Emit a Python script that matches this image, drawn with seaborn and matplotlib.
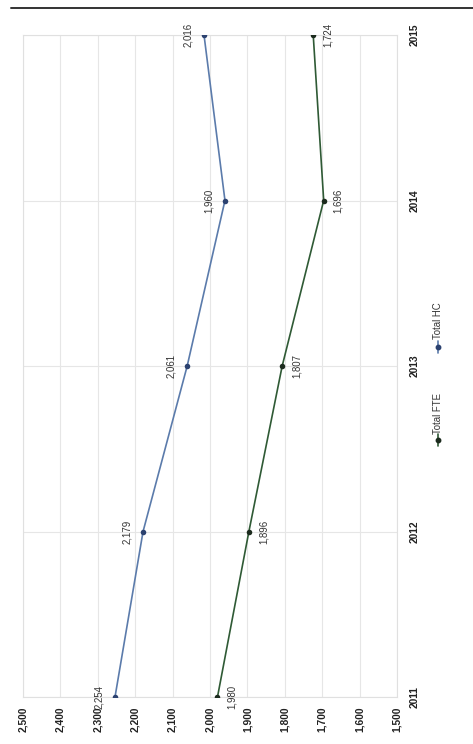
import matplotlib
matplotlib.use("Agg")
import matplotlib.pyplot as plt
from matplotlib.lines import Line2D
from matplotlib import font_manager
import seaborn as sns
import pandas as pd

years = [2011, 2012, 2013, 2014, 2015]
total_fte = [1980, 1896, 1807, 1696, 1724]
total_hc = [2254, 2179, 2061, 1960, 2016]
value_ticks = [2500, 2400, 2300, 2200, 2100, 2000, 1900, 1800, 1700, 1600, 1500]

sns.set_theme(style="white")
installed = {f.name for f in font_manager.fontManager.ttflist}
family = "Liberation Sans Narrow" if "Liberation Sans Narrow" in installed else "Liberation Sans"
plt.rcParams["font.family"] = [family, "DejaVu Sans"]
fs_tick = 8.2 if family.endswith("Narrow") else 7.4
fs_lab = 7.6 if family.endswith("Narrow") else 6.9

df = pd.DataFrame({
    "year": years * 2,
    "value": total_fte + total_hc,
    "series": ["Total FTE"] * len(years) + ["Total HC"] * len(years),
})

line_colors = {"Total FTE": "#2f5a35", "Total HC": "#5b7bab"}
dot_colors = {"Total FTE": "#1c2b1e", "Total HC": "#2c4270"}

fig = plt.figure(figsize=(4.73, 7.44), dpi=100)
ax = fig.add_axes([23 / 473, 1 - 697 / 744, 374 / 473, (697 - 35) / 744])

# page rule across the top
fig.add_artist(Line2D([11 / 473, 1.0], [1 - 8 / 744] * 2, transform=fig.transFigure,
                      color="#333333", linewidth=1.4))

sns.lineplot(data=df, x="value", y="year", hue="series", palette=line_colors,
             orient="y", sort=False, estimator=None, linewidth=1.2, legend=False, ax=ax)
for name, grp in df.groupby("series"):
    ax.scatter(grp["value"], grp["year"], s=16, color=dot_colors[name], zorder=3, linewidths=0)

# rotated value labels: HC to the left, FTE to the right
for yr, v in zip(years, total_hc):
    ax.annotate(f"{v:,}", (v, yr), xytext=(-11.5, 0), textcoords="offset points",
                rotation=90, ha="center", va="center", fontsize=fs_lab, color="#333333")
for yr, v in zip(years, total_fte):
    ax.annotate(f"{v:,}", (v, yr), xytext=(10.5, 0), textcoords="offset points",
                rotation=90, ha="center", va="center", fontsize=fs_lab, color="#333333")

ax.set_xlim(2500, 1500)
ax.set_ylim(2011, 2015)
ax.set_xticks(value_ticks)
ax.set_xticklabels([f"{t:,}" for t in value_ticks], rotation=90, fontsize=fs_tick,
                   fontweight="bold", color="#222222")
ax.set_yticks(years)
ax.set_yticklabels([str(y) for y in years], rotation=90, fontsize=fs_tick,
                   fontweight="bold", color="#222222", va="center")
ax.yaxis.tick_right()
ax.tick_params(axis="x", length=0, pad=7)
ax.tick_params(axis="y", length=0, pad=9)
ax.set_xlabel("")
ax.set_ylabel("")
ax.grid(True, color="#e6e6e6", linewidth=0.8)
for s in ax.spines.values():
    s.set_color("#e0e0e0")
    s.set_linewidth(0.8)

# legend, rotated with the chart
lx = 438 / 473
for name, ymid, ytext in [("Total FTE", 440, 414), ("Total HC", 347, 321)]:
    fy = 1 - ymid / 744
    fig.add_artist(Line2D([lx, lx], [fy - 6 / 744, fy + 6 / 744], transform=fig.transFigure,
                          color=line_colors[name], linewidth=1.2))
    fig.add_artist(Line2D([lx], [fy], transform=fig.transFigure, marker="o", markersize=3.2,
                          color=dot_colors[name], linestyle="none"))
    fig.text(lx, 1 - ytext / 744, name, rotation=90, ha="center", va="center",
             fontsize=fs_lab, color="#333333")

fig.savefig("out.png", dpi=100)
